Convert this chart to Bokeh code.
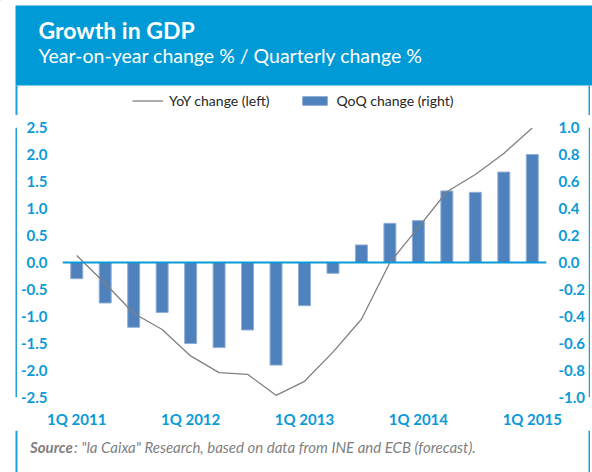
from bokeh.plotting import figure
from bokeh.layouts import column, row
from bokeh.models import (Range1d, LinearAxis, FixedTicker, NumeralTickFormatter, Span,
                          Label, BoxAnnotation, Legend, LegendItem, ColumnDataSource)
from bokeh.embed import file_html
from bokeh.resources import INLINE

# ---------------- data ----------------
quarters = ["1Q 2011", "2Q 2011", "3Q 2011", "4Q 2011",
            "1Q 2012", "2Q 2012", "3Q 2012", "4Q 2012",
            "1Q 2013", "2Q 2013", "3Q 2013", "4Q 2013",
            "1Q 2014", "2Q 2014", "3Q 2014", "4Q 2014",
            "1Q 2015"]
yoy = [0.13, -0.39, -0.94, -1.24, -1.73, -2.04, -2.07, -2.46, -2.20,
       -1.66, -1.05, 0.00, 0.65, 1.31, 1.63, 2.02, 2.49]
qoq = [-0.12, -0.30, -0.48, -0.37, -0.60, -0.63, -0.50, -0.76, -0.32,
       -0.08, 0.13, 0.29, 0.31, 0.53, 0.52, 0.67, 0.80]
left_ticks = [-2.5, -2.0, -1.5, -1.0, -0.5, 0.0, 0.5, 1.0, 1.5, 2.0, 2.5]
right_ticks = [-1.0, -0.8, -0.6, -0.4, -0.2, 0.0, 0.2, 0.4, 0.6, 0.8, 1.0]
x_tick_labels = ["1Q 2011", "1Q 2012", "1Q 2013", "1Q 2014", "1Q 2015"]

title_text = "Growth in GDP"
subtitle_text = "Year-on-year change % / Quarterly change %"
source_bold = "Source"
source_rest = ": \"la Caixa\" Research, based on data from INE and ECB (forecast)."
yoy_label = "YoY change (left)"
qoq_label = "QoQ change (right)"

# ---------------- styles ----------------
BAND = "#009AD6"
BLUE = "#0A9AD7"
BORDER = "#1FA0DA"
BAR = "#4F81BD"
BAR_EDGE = "#8FAED6"
LINE = "#808080"
FONT = "Lato"

PW = 592                 # page width
HDR_H = 115              # header strip (title band + legend)
MID_H = 315              # chart strip
FTR_H = 42               # footer strip (source)
LS_W, RS_W = 17, 4       # side strips carrying the panel borders
MAIN_W = PW - LS_W - RS_W


def deco_fig(w, h):
    f = figure(width=w, height=h, output_backend="svg", toolbar_location=None,
               x_range=Range1d(0, w), y_range=Range1d(h, 0),
               x_axis_type=None, y_axis_type=None, min_border=0,
               background_fill_color="white", border_fill_color="white",
               outline_line_color=None)
    f.xgrid.visible = False
    f.ygrid.visible = False
    return f


def box(f, l, r, t, b, color):
    f.add_layout(BoxAnnotation(left=l, right=r, top=t, bottom=b,
                               fill_color=color, fill_alpha=1, line_color=None))


# ---------------- header: band, titles, legend ----------------
hdr = deco_fig(PW, HDR_H)
box(hdr, 15, PW, 5, 85, BAND)
box(hdr, 15, 17, 85, HDR_H, BORDER)
box(hdr, 588, 589.5, 85, HDR_H, BORDER)
hdr.add_layout(Label(x=38, y=29, text=title_text, text_font=FONT,
                     text_font_style="bold", text_font_size="23px",
                     text_color="white", text_baseline="alphabetic"))
hdr.add_layout(Label(x=38, y=55, text=subtitle_text, text_font=FONT,
                     text_font_size="19.5px", text_color="white",
                     text_baseline="alphabetic"))
# legend swatches share the styles of the chart series (their own points lie off-canvas)
leg_line = hdr.line(x=[-50, -40], y=[-50, -50], line_color=LINE, line_width=1.3)
leg_bar = hdr.vbar(x=[-50], top=[-50], bottom=[-40], width=1,
                   fill_color=BAR, line_color=BAR_EDGE)
legend = Legend(items=[LegendItem(label=yoy_label, renderers=[leg_line]),
                       LegendItem(label=qoq_label, renderers=[leg_bar])],
                orientation="horizontal", location=(132, HDR_H - 109),
                glyph_width=31, glyph_height=11, label_standoff=6, spacing=30,
                padding=0, margin=0, label_height=14,
                label_text_font=FONT, label_text_font_size="14px",
                label_text_color="#262626",
                border_line_color=None, background_fill_alpha=0)
hdr.add_layout(legend)

# ---------------- main chart ----------------
FL, FR, FT, FB = 62 - LS_W, 547 - LS_W, 127 - HDR_H, 399 - HDR_H
idx = list(range(len(quarters)))
src = ColumnDataSource(dict(x=idx, q=quarters, yoy=yoy, qoq=qoq))

p = figure(width=MAIN_W, height=MID_H, output_backend="svg", toolbar_location=None,
           x_range=Range1d(-0.5, len(quarters) - 0.5),
           y_range=Range1d(left_ticks[0], left_ticks[-1]),
           min_border_left=FL, min_border_right=MAIN_W - FR,
           min_border_top=FT, min_border_bottom=MID_H - FB,
           background_fill_color="white", border_fill_color="white",
           outline_line_color=None)
p.xgrid.visible = False
p.ygrid.visible = False
p.extra_y_ranges = {"qoq": Range1d(right_ticks[0], right_ticks[-1])}


def style_axis(ax, standoff):
    ax.axis_line_color = None
    ax.major_tick_line_color = None
    ax.minor_tick_line_color = None
    ax.major_tick_in = 0
    ax.major_tick_out = 0
    ax.minor_tick_in = 0
    ax.minor_tick_out = 0
    ax.major_label_text_font = FONT
    ax.major_label_text_font_style = "bold"
    ax.major_label_text_font_size = "15px"
    ax.major_label_text_color = BLUE
    ax.major_label_standoff = standoff


yl = p.yaxis[0]
yl.ticker = FixedTicker(ticks=left_ticks)
yl.formatter = NumeralTickFormatter(format="0.0")
style_axis(yl, 15)

yr = LinearAxis(y_range_name="qoq", ticker=FixedTicker(ticks=right_ticks),
                formatter=NumeralTickFormatter(format="0.0"))
style_axis(yr, 12)
p.add_layout(yr, "right")

xa = p.xaxis[0]
xa.ticker = FixedTicker(ticks=[quarters.index(q) for q in x_tick_labels])
xa.major_label_overrides = {quarters.index(q): q for q in x_tick_labels}
style_axis(xa, 12)

bars = p.vbar(x="x", top="qoq", bottom=0, width=0.42, source=src, y_range_name="qoq",
              fill_color=BAR, line_color=BAR_EDGE, line_width=1)
p.add_layout(Span(location=0, dimension="width", line_color=BLUE, line_width=2.2))
ln = p.line(x="x", y="yoy", source=src, line_color=LINE, line_width=1.3)

# side strips with the panel borders
lstrip = deco_fig(LS_W, MID_H)
box(lstrip, 15, 17, 0, MID_H, BORDER)
rstrip = deco_fig(RS_W, MID_H)
box(rstrip, 0, 1.5, 0, MID_H, BORDER)

# ---------------- footer: source note ----------------
ftr = deco_fig(PW, FTR_H)
box(ftr, 15, 17, 0, FTR_H, BORDER)
box(ftr, 588, 589.5, 0, FTR_H, BORDER)
ftr.add_layout(Label(x=29.5, y=16, text=source_bold, text_font=FONT,
                     text_font_style="bold italic", text_font_size="15px",
                     text_color="#7F7F7F", text_baseline="alphabetic"))
ftr.add_layout(Label(x=29.5 + 44, y=16, text=source_rest, text_font=FONT,
                     text_font_style="italic", text_font_size="15px",
                     text_color="#7F7F7F", text_baseline="alphabetic"))

layout = column(hdr, row(lstrip, p, rstrip, spacing=0), ftr, spacing=0)

open("out.html", "w").write(file_html(layout, INLINE))
